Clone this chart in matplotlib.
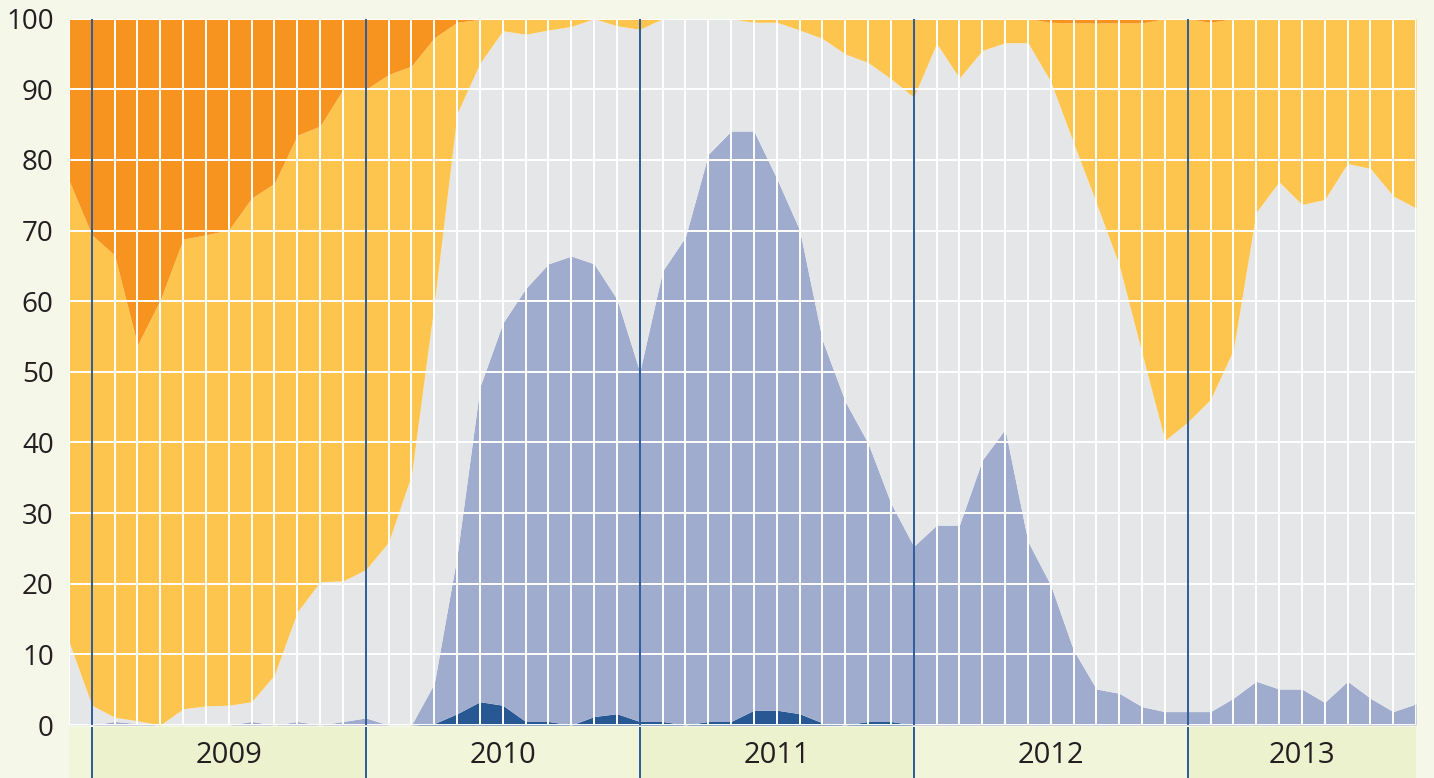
import numpy as np
import matplotlib
matplotlib.use("Agg")
import matplotlib.pyplot as plt

plt.rcParams['font.family'] = ['Open Sans', 'DejaVu Sans']

# monthly shares, Dec 2008 .. Nov 2013, given as cumulative stack levels (%)
dark_top = [0, 0, 0, 0, 0, 0, 0, 0, 0, 0, 0, 0, 0, 0, 0, 0,
            0.2, 1.6, 3.3, 2.8, 0.5, 0.5, 0, 1.2, 1.6, 0.5, 0.5, 0, 0.5, 0.5,
            2.1, 2.1, 1.6, 0.3, 0, 0.5, 0.5, 0,
            0, 0, 0, 0, 0, 0, 0, 0, 0, 0, 0, 0, 0, 0, 0, 0, 0, 0, 0, 0, 0, 0]
blue_top = [0, 0, 0.5, 0.2, 0, 0, 0, 0, 0.5, 0, 0.5, 0, 0.5, 1.0, 0, 0,
            5.9, 24.0, 47.9, 56.9, 61.8, 65.3, 66.4, 65.3, 60.3, 50.0, 64.3, 69.1,
            80.8, 84.1, 84.1, 77.4, 70.1, 54.5, 45.8, 39.9, 31.4, 25.3,
            28.3, 28.3, 37.5, 41.9, 26.0, 19.8, 10.6, 5.1, 4.5, 2.6, 1.9,
            1.9, 1.9, 3.8, 6.2, 5.1, 5.1, 3.2, 6.2, 3.8, 1.9, 3.0]
grey_top = [11.8, 2.8, 1.1, 0.6, 0, 2.3, 2.7, 2.8, 3.3, 7.1, 16.0, 20.3, 20.4,
            22.0, 25.9, 35.4, 59.7, 86.6, 93.7, 98.3, 97.8, 98.4, 98.9, 100, 99.0,
            98.5, 100, 100, 100, 100, 99.5, 99.5, 98.4, 97.2, 95.0, 93.8, 91.5,
            88.9, 96.5, 91.6, 95.5, 96.6, 96.6, 91.1, 82.4, 73.9, 65.1, 52.6, 40.3,
            42.9, 46.1, 53.1, 72.6, 76.9, 73.7, 74.4, 79.5, 78.8, 74.9, 73.2]
yellow_top = [77.1, 69.4, 66.5, 53.8, 60.2, 68.8, 69.4, 70.1, 74.6, 76.7, 83.5,
              84.8, 90.0, 90.0, 92.1, 93.3, 97.3, 99.5, 99.9,
              100, 100, 100, 100, 100, 100, 100, 100, 100, 100, 100, 100, 100,
              100, 100, 100, 100, 100, 100, 100, 100, 100, 100, 100,
              99.5, 99.4, 99.4, 99.4, 99.4, 100, 100, 99.5,
              100, 100, 100, 100, 100, 100, 100, 100, 100]
orange_top = [100] * 60

years = ['2009', '2010', '2011', '2012', '2013']
year_start = [1, 13, 25, 37, 49]

x = np.arange(len(orange_top))
levels = [np.zeros(len(x)), dark_top, blue_top, grey_top, yellow_top, orange_top]
colors = ['#275893', '#a0acce', '#e5e6e8', '#fec54e', '#f7941f']

fig = plt.figure(figsize=(14.34, 7.78), dpi=100, facecolor='#f5f7e9')
ax = fig.add_axes([69/1434, 1 - 725/778, (1416 - 69)/1434, (725 - 18.7)/778])
band = fig.add_axes([69/1434, 0, (1416 - 69)/1434, 1 - 727/778], sharex=ax)

for i in range(5):
    ax.fill_between(x, levels[i], levels[i + 1], color=colors[i], lw=0, zorder=1)

ax.set_xlim(0, x[-1])
ax.set_ylim(0, 100)
ax.set_yticks(range(0, 101, 10))
ax.set_xticks(x)
ax.tick_params(axis='x', length=0, labelbottom=False)
ax.tick_params(axis='y', length=0, pad=11, labelsize=20, colors='#231f20')
ax.set_axisbelow(False)
ax.grid(True, color='white', lw=1.4)
for s in ax.spines.values():
    s.set_visible(False)

# year bands under the axis
edges = [0] + year_start + [x[-1]]
for i in range(len(edges) - 1):
    c = '#ecf2cd' if i % 2 else '#f1f5da'
    band.axvspan(edges[i], edges[i + 1], color=c, lw=0)
for i, y in enumerate(years):
    mid = (edges[i + 1] + edges[i + 2]) / 2
    band.text(mid, 0.45, y, ha='center', va='center', fontsize=21, color='#231f20')
band.set_ylim(0, 1)
band.axis('off')

for xs in year_start:
    ax.axvline(xs, color='#1d4f91', lw=1.3, zorder=3)
    band.axvline(xs, color='#1d4f91', lw=1.3, zorder=3)

fig.savefig('out.png', dpi=100, facecolor=fig.get_facecolor())
